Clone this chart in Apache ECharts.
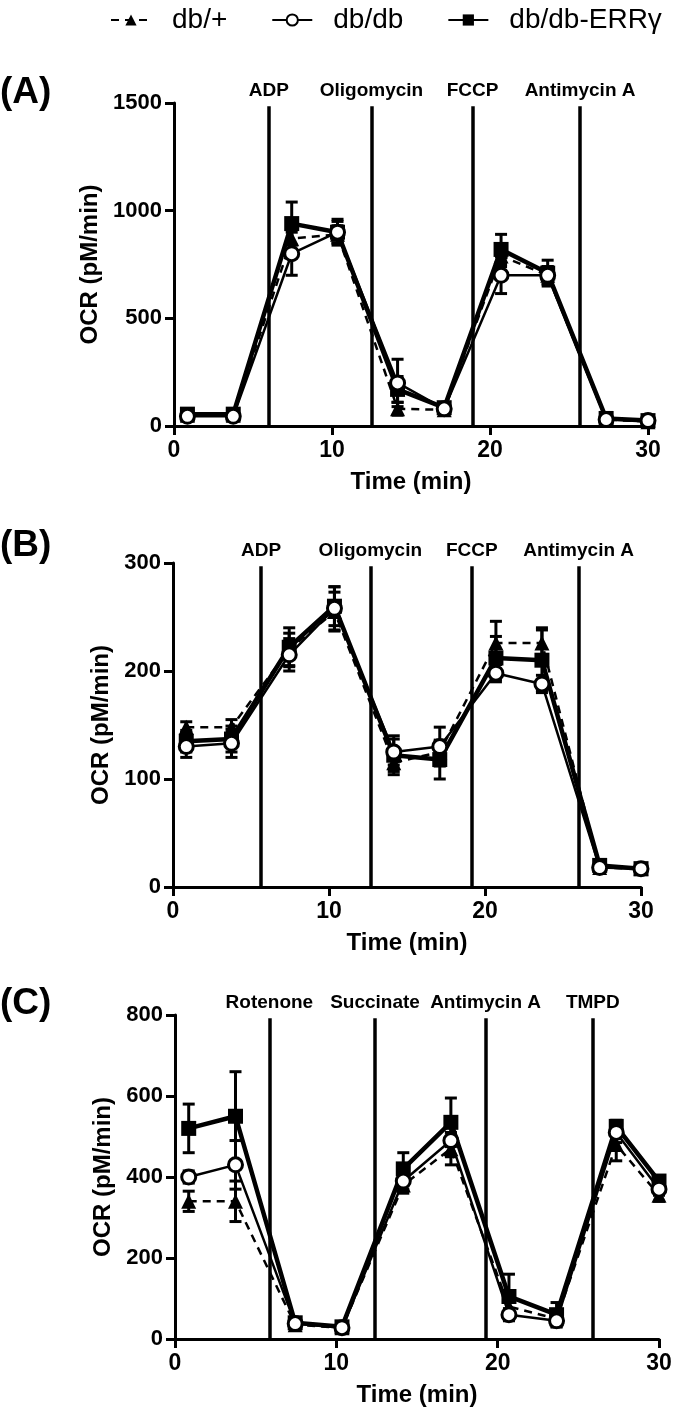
<!DOCTYPE html>
<html>
<head>
<meta charset="utf-8">
<script src="https://cdn.jsdelivr.net/npm/echarts@6/dist/echarts.min.js"></script>
<style>
  html, body { margin: 0; padding: 0; background: #fff; }
  #chart { width: 675px; height: 1417px; }
</style>
</head>
<body>
<div id="chart"></div>
<script>
// ---------- data ----------
const seriesNames = ['db/+', 'db/db', 'db/db-ERRγ'];
const times = [0.85, 3.75, 7.45, 10.35, 14.15, 17.1, 20.7, 23.65, 27.35, 30.0];

// Panel A
const A_dbPlus  = [50, 50, 870, 890, 80, 75, 790, 700, 30, 20];
const A_dbdb    = [45, 45, 800, 900, 200, 80, 700, 700, 30, 25];
const A_err     = [55, 55, 940, 900, 170, 85, 820, 710, 35, 25];
const A_dbPlusE = [10, 10, 60, 40, 30, 15, 50, 40, 10, 10];
const A_dbdbE   = [15, 15, 100, 50, 110, 20, 85, 40, 10, 10];
const A_errE    = [20, 20, 100, 60, 60, 20, 70, 60, 10, 10];
const A_drugs   = ['ADP', 'Oligomycin', 'FCCP', 'Antimycin A'];
const A_drugT   = [6.0, 12.5, 18.9, 25.7];

// Panel B
const B_dbPlus  = [148, 148, 220, 255, 115, 125, 226, 226, 18, 17];
const B_dbdb    = [130, 133, 215, 258, 125, 130, 198, 188, 18, 17];
const B_err     = [135, 137, 222, 260, 122, 118, 212, 210, 20, 17];
const B_dbPlusE = [5, 7, 15, 18, 8, 10, 20, 14, 3, 3];
const B_dbdbE   = [10, 13, 15, 20, 12, 18, 8, 8, 3, 3];
const B_errE    = [10, 12, 18, 18, 18, 18, 20, 28, 3, 3];
const B_drugs   = ['ADP', 'Oligomycin', 'FCCP', 'Antimycin A'];
const B_drugT   = [5.65, 12.65, 19.15, 26.0];

// Panel C
const C_dbPlus  = [340, 340, 35, 28, 380, 470, 80, 50, 480, 355];
const C_dbdb    = [400, 430, 38, 28, 390, 490, 60, 45, 510, 370];
const C_err     = [520, 550, 40, 30, 420, 535, 105, 60, 525, 390];
const C_dbPlusE = [25, 50, 10, 8, 20, 40, 20, 15, 40, 15];
const C_dbdbE   = [15, 60, 10, 8, 20, 40, 15, 15, 25, 15];
const C_errE    = [60, 110, 12, 10, 40, 60, 55, 30, 15, 12];
const C_drugs   = ['Rotenone', 'Succinate', 'Antimycin A', 'TMPD'];
const C_drugT   = [5.85, 12.4, 19.25, 25.9];

const yMax = [1500, 300, 800];
const yInterval = [500, 100, 200];
const xTicks = [0, 10, 20, 30];
const panelLabels = ['(A)', '(B)', '(C)'];

// ---------- styling ----------
const BOLD = "'Liberation Sans', Arial, sans-serif";
const SANS = "'Liberation Sans', Arial, sans-serif";

const panels = [
  { vals: [A_dbPlus, A_dbdb, A_err], errs: [A_dbPlusE, A_dbdbE, A_errE], drugs: A_drugs, drugT: A_drugT,
    grid: { left: 174, top: 103, width: 474, height: 323 }, nameGap: 56, labelTop: 74 },
  { vals: [B_dbPlus, B_dbdb, B_err], errs: [B_dbPlusE, B_dbdbE, B_errE], drugs: B_drugs, drugT: B_drugT,
    grid: { left: 173, top: 563, width: 468, height: 324 }, nameGap: 50, labelTop: 527 },
  { vals: [C_dbPlus, C_dbdb, C_err], errs: [C_dbPlusE, C_dbdbE, C_errE], drugs: C_drugs, drugT: C_drugT,
    grid: { left: 175, top: 1015, width: 484, height: 324 }, nameGap: 51, labelTop: 985 }
];

const seriesStyle = [
  { symbol: 'triangle', symbolSize: 15, itemStyle: { color: '#000' }, lineStyle: { color: '#000', width: 2.5, type: [8, 6] } },
  { symbol: 'circle', symbolSize: 14, itemStyle: { color: '#fff', borderColor: '#000', borderWidth: 3 }, lineStyle: { color: '#000', width: 2.5, type: 'solid' } },
  { symbol: 'rect', symbolSize: 15, itemStyle: { color: '#000' }, lineStyle: { color: '#000', width: 4.5, type: 'solid' } }
];
const drawOrder = [2, 0, 1];

function renderErr(params, api) {
  const x = api.value(0), y = api.value(1), e = api.value(2);
  const top = api.coord([x, y + e]);
  const bot = api.coord([x, y - e]);
  const hw = 6;
  const st = { stroke: '#000', lineWidth: 3 };
  return {
    type: 'group',
    children: [
      { type: 'line', shape: { x1: top[0], y1: top[1], x2: bot[0], y2: bot[1] }, style: st },
      { type: 'line', shape: { x1: top[0] - hw, y1: top[1], x2: top[0] + hw, y2: top[1] }, style: st },
      { type: 'line', shape: { x1: bot[0] - hw, y1: bot[1], x2: bot[0] + hw, y2: bot[1] }, style: st }
    ]
  };
}

const grids = [], xAxes = [], yAxes = [], series = [], graphics = [];

panels.forEach((p, k) => {
  grids.push(p.grid);
  xAxes.push({
    type: 'value', gridIndex: k, min: xTicks[0], max: xTicks[xTicks.length - 1], interval: 10,
    name: 'Time (min)', nameLocation: 'middle', nameGap: 44,
    nameTextStyle: { fontFamily: BOLD, fontWeight: 'bold', fontSize: 24, color: '#000' },
    axisLine: { show: true, lineStyle: { color: '#000', width: 3 } },
    axisTick: { show: true, inside: false, length: 9, lineStyle: { color: '#000', width: 3 } },
    axisLabel: { fontFamily: BOLD, fontWeight: 'bold', fontSize: 23, color: '#000', margin: 13,
                 formatter: v => String(v) },
    splitLine: { show: false }
  });
  yAxes.push({
    type: 'value', gridIndex: k, min: 0, max: yMax[k], interval: yInterval[k],
    name: 'OCR (pM/min)', nameLocation: 'middle', nameGap: p.nameGap, nameRotate: 90,
    nameTextStyle: { fontFamily: SANS, fontWeight: 'bold', fontSize: 24, color: '#000' },
    axisLine: { show: true, lineStyle: { color: '#000', width: 3 } },
    axisTick: { show: true, inside: false, length: 9, lineStyle: { color: '#000', width: 3 } },
    axisLabel: { fontFamily: BOLD, fontWeight: 'bold', fontSize: 22, color: '#000', margin: 12,
                 formatter: v => String(v) },
    splitLine: { show: false }
  });

  // error bars (below lines)
  drawOrder.forEach(si => {
    series.push({
      type: 'custom', name: seriesNames[si] + ' err', xAxisIndex: k, yAxisIndex: k,
      renderItem: renderErr, clip: false, silent: true, z: 2,
      encode: { x: 0, y: 1 },
      data: times.map((t, i) => [t, p.vals[si][i], p.errs[si][i]])
    });
  });

  // lines
  drawOrder.forEach((si, order) => {
    const s = Object.assign({
      type: 'line', name: seriesNames[si], xAxisIndex: k, yAxisIndex: k,
      data: times.map((t, i) => [t, p.vals[si][i]]),
      showSymbol: true, clip: false, z: 3 + order, animation: false
    }, JSON.parse(JSON.stringify(seriesStyle[si])));
    if (order === 0) {
      s.markLine = {
        silent: true, symbol: ['none', 'none'], animation: false,
        lineStyle: { color: '#000', width: 3.5, type: 'solid' },
        label: { show: true, position: 'end', formatter: '{b}', distance: 6,
                 fontFamily: BOLD, fontWeight: 'bold', fontSize: 19, color: '#000' },
        data: p.drugT.map((t, j) => [
          { name: p.drugs[j], coord: [t, 0] },
          { coord: [t, yMax[k] * 0.99] }
        ])
      };
    }
    series.push(s);
  });

  graphics.push({
    type: 'text', left: 0, top: p.labelTop,
    style: { text: panelLabels[k], font: "bold 37px 'Liberation Sans', Arial, sans-serif", fill: '#000' }
  });
});

const chart = echarts.init(document.getElementById('chart'), null, { renderer: 'canvas' });
chart.setOption({
  animation: false,
  backgroundColor: '#fff',
  legend: {
    data: seriesNames,
    left: 105, top: 1,
    itemWidth: 40, itemHeight: 14, itemGap: 44,
    textStyle: { fontFamily: SANS, fontSize: 28, color: '#000', padding: [0, 0, 0, 16] }
  },
  grid: grids,
  xAxis: xAxes,
  yAxis: yAxes,
  series: series,
  graphic: graphics
});
</script>
</body>
</html>
